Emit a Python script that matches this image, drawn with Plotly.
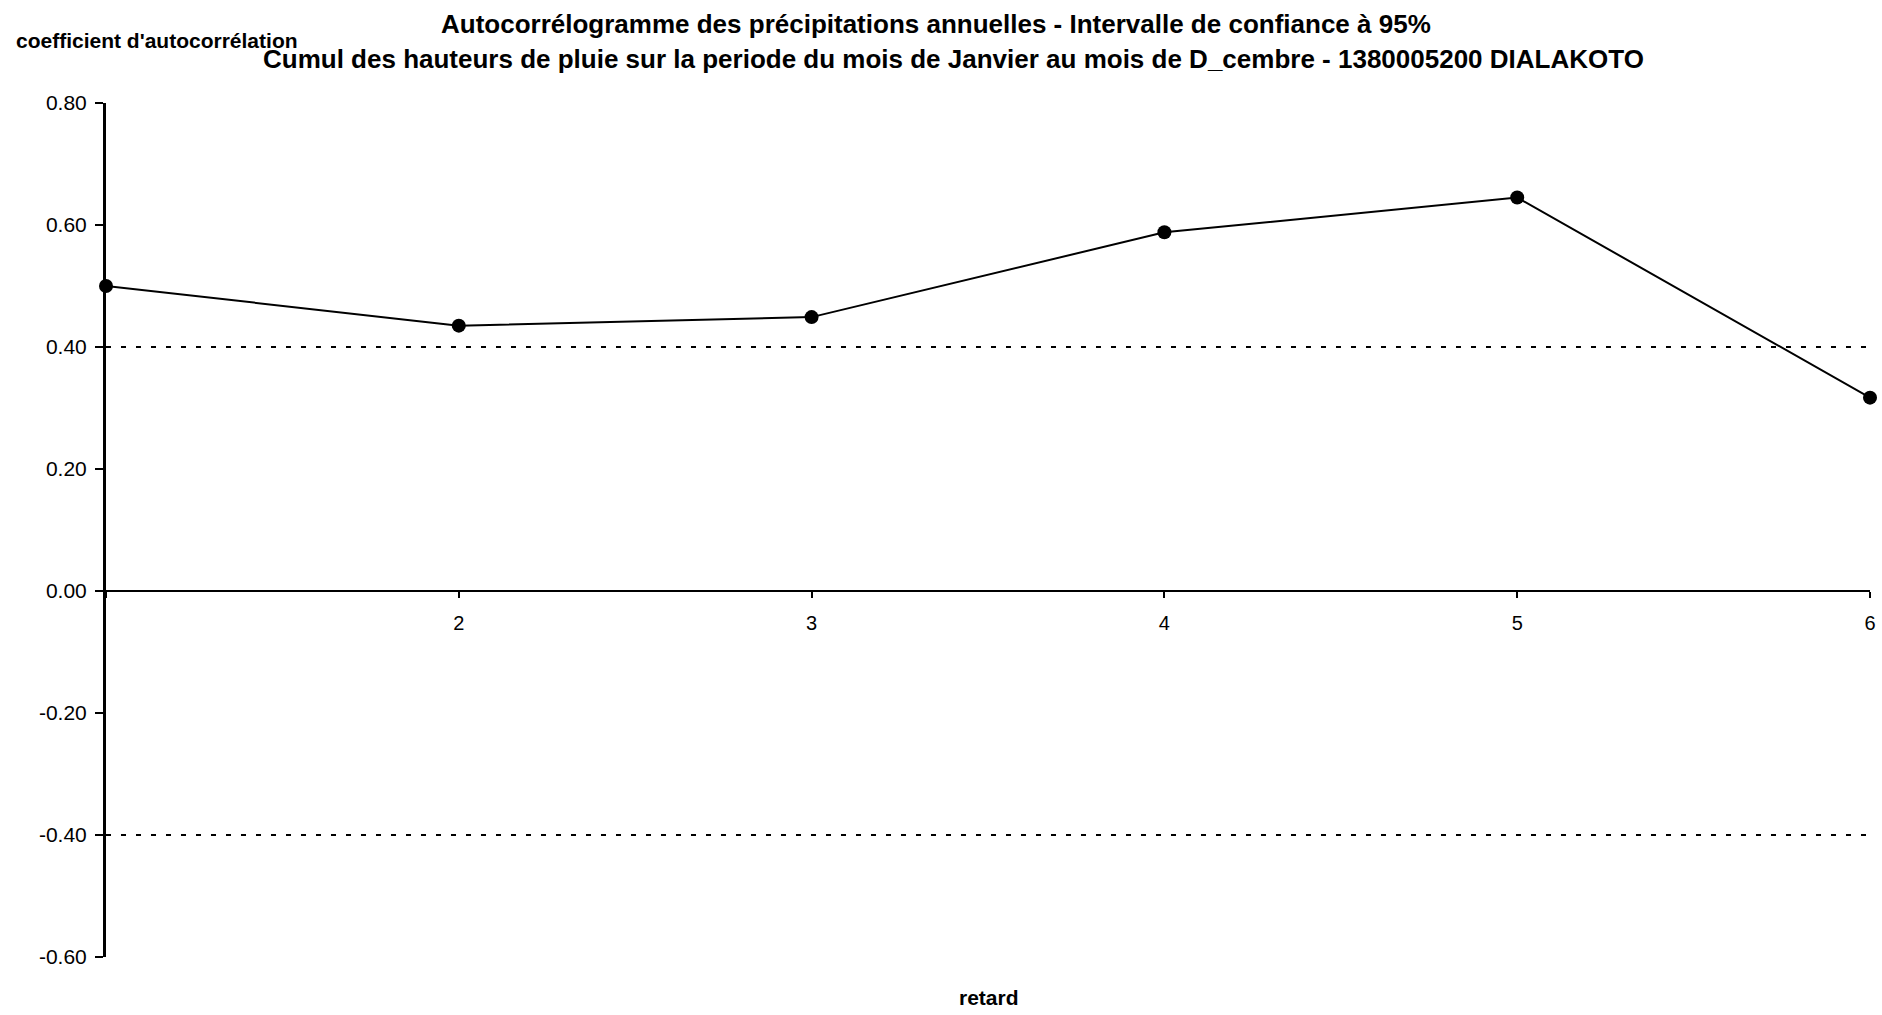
import plotly.graph_objects as go

lags = [1, 2, 3, 4, 5, 6]
acf = [0.50, 0.435, 0.449, 0.588, 0.645, 0.317]
conf_upper = [0.40] * 6
conf_lower = [-0.40] * 6
x_tick_text = ["", "2", "3", "4", "5", "6"]
y_tick_vals = [-0.6, -0.4, -0.2, 0.0, 0.2, 0.4, 0.6, 0.8]
y_tick_text = ["-0.60", "-0.40", "-0.20", "0.00", "0.20", "0.40", "0.60", "0.80"]
y_range = [-0.6, 0.8]

title_l1 = "Autocorrélogramme des précipitations annuelles - Intervalle de confiance à 95%"
title_l2 = "Cumul des hauteurs de pluie sur la periode du mois de Janvier au mois de D_cembre - 1380005200 DIALAKOTO"

FONT = "Liberation Sans, Arial, sans-serif"

W, H = 1882, 1015
L, T = 106, 103
R = W - 1870
B = H - 957

fig = go.Figure()
for yy in (conf_upper, conf_lower):
    fig.add_trace(go.Scatter(x=lags, y=yy, mode="lines",
                             line=dict(color="black", width=2, dash="5px,10px"),
                             hoverinfo="skip", showlegend=False))
fig.add_trace(go.Scatter(x=lags, y=acf, mode="lines+markers",
                         line=dict(color="black", width=2),
                         marker=dict(color="black", size=14),
                         showlegend=False, cliponaxis=False))

zero_pos = (0 - y_range[0]) / (y_range[1] - y_range[0])

pw = W - L - R
ph = H - T - B


def px_ann(text, px, py, size, xanchor="center"):
    return dict(text=text, x=(px - L) / pw, y=1 - (py - T) / ph,
                xref="paper", yref="paper", showarrow=False,
                xanchor=xanchor, yanchor="middle", font=dict(size=size))


fig.update_layout(
    width=W, height=H,
    margin=dict(l=L, r=R, t=T, b=B, autoexpand=False),
    paper_bgcolor="white", plot_bgcolor="white",
    font=dict(family=FONT, color="black", size=21),
    xaxis=dict(range=[1, 6], tickvals=lags, ticktext=x_tick_text,
               showgrid=False, zeroline=False, showline=True, linecolor="black", linewidth=2,
               ticks="outside", ticklen=6, tickwidth=2, tickcolor="black",
               anchor="free", position=zero_pos, tickfont=dict(size=20),
               ticklabelstandoff=8),
    yaxis=dict(range=y_range, tickvals=y_tick_vals, ticktext=y_tick_text,
               showgrid=False, zeroline=False, showline=True, linecolor="black", linewidth=3,
               ticks="outside", ticklen=8, tickwidth=2, tickcolor="black",
               tickfont=dict(size=21), ticklabelstandoff=4),
    annotations=[
        px_ann("<b>" + title_l1 + "</b>", 936, 24, 26),
        px_ann("<b>" + title_l2 + "</b>", 953, 59, 26),
        px_ann("<b>coefficient d'autocorrélation</b>", 14, 40, 21, xanchor="left"),
        px_ann("<b>retard</b>", 989, 997, 21),
    ],
)

fig.write_html("out.html", config={"displayModeBar": False},
               post_script="document.body.style.margin='0';document.body.style.overflow='hidden';")
